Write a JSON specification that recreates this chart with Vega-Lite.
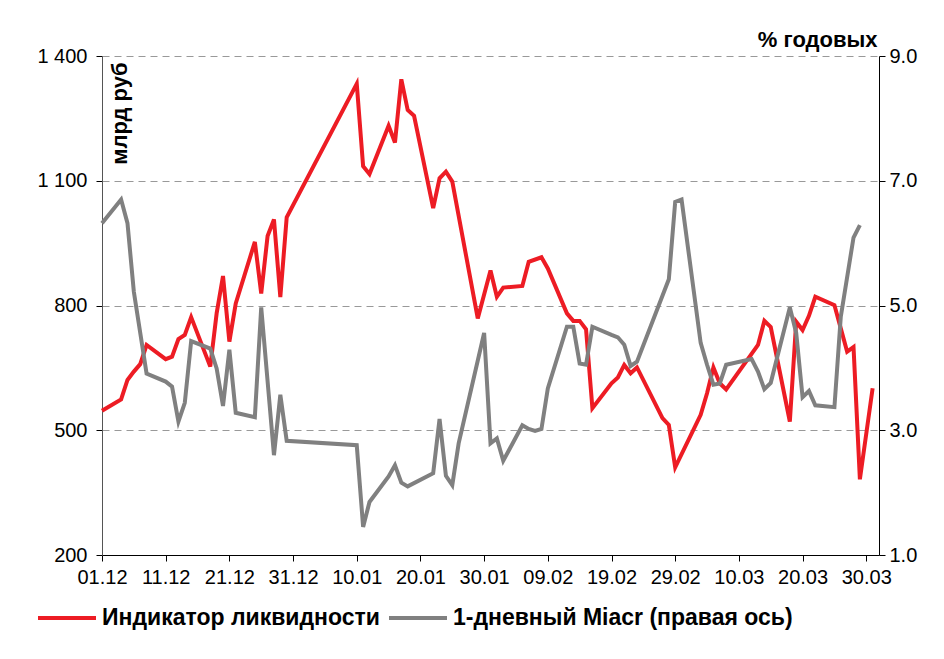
{
  "$schema": "https://vega.github.io/schema/vega-lite/v6.json",
  "width": 777,
  "height": 499,
  "autosize": {"type": "none"},
  "padding": {"left": 102, "top": 56, "right": 65, "bottom": 104},
  "background": "white",
  "config": {
    "font": "Liberation Sans",
    "view": {"stroke": null},
    "axis": {
      "labelFont": "Liberation Sans",
      "labelFontSize": 20,
      "labelColor": "#000",
      "domainColor": "#000",
      "tickColor": "#000",
      "titleFont": "Liberation Sans",
      "titleFontSize": 22,
      "titleFontWeight": "bold",
      "titleColor": "#000"
    }
  },
  "datasets": {
    "liq": [
      {"date": "2011-12-01", "value": 547},
      {"date": "2011-12-04", "value": 574},
      {"date": "2011-12-05", "value": 621},
      {"date": "2011-12-06", "value": 641},
      {"date": "2011-12-07", "value": 659},
      {"date": "2011-12-08", "value": 705},
      {"date": "2011-12-11", "value": 671},
      {"date": "2011-12-12", "value": 677},
      {"date": "2011-12-13", "value": 719},
      {"date": "2011-12-14", "value": 729},
      {"date": "2011-12-15", "value": 772},
      {"date": "2011-12-18", "value": 653},
      {"date": "2011-12-19", "value": 781},
      {"date": "2011-12-20", "value": 871},
      {"date": "2011-12-21", "value": 713},
      {"date": "2011-12-22", "value": 805},
      {"date": "2011-12-25", "value": 953},
      {"date": "2011-12-26", "value": 829},
      {"date": "2011-12-27", "value": 967},
      {"date": "2011-12-28", "value": 1007},
      {"date": "2011-12-29", "value": 820},
      {"date": "2011-12-30", "value": 1012},
      {"date": "2012-01-10", "value": 1333},
      {"date": "2012-01-11", "value": 1135},
      {"date": "2012-01-12", "value": 1116},
      {"date": "2012-01-15", "value": 1232},
      {"date": "2012-01-16", "value": 1192},
      {"date": "2012-01-17", "value": 1344},
      {"date": "2012-01-18", "value": 1270},
      {"date": "2012-01-19", "value": 1256},
      {"date": "2012-01-22", "value": 1034},
      {"date": "2012-01-23", "value": 1106},
      {"date": "2012-01-24", "value": 1122},
      {"date": "2012-01-25", "value": 1098},
      {"date": "2012-01-29", "value": 769},
      {"date": "2012-01-31", "value": 884},
      {"date": "2012-02-01", "value": 821},
      {"date": "2012-02-02", "value": 843},
      {"date": "2012-02-05", "value": 847},
      {"date": "2012-02-06", "value": 905},
      {"date": "2012-02-08", "value": 916},
      {"date": "2012-02-09", "value": 889},
      {"date": "2012-02-12", "value": 781},
      {"date": "2012-02-13", "value": 763},
      {"date": "2012-02-14", "value": 763},
      {"date": "2012-02-15", "value": 743},
      {"date": "2012-02-16", "value": 553},
      {"date": "2012-02-19", "value": 613},
      {"date": "2012-02-20", "value": 627},
      {"date": "2012-02-21", "value": 657},
      {"date": "2012-02-22", "value": 637},
      {"date": "2012-02-23", "value": 651},
      {"date": "2012-02-27", "value": 529},
      {"date": "2012-02-28", "value": 513},
      {"date": "2012-02-29", "value": 411},
      {"date": "2012-03-04", "value": 537},
      {"date": "2012-03-05", "value": 589},
      {"date": "2012-03-06", "value": 651},
      {"date": "2012-03-07", "value": 613},
      {"date": "2012-03-08", "value": 598},
      {"date": "2012-03-13", "value": 705},
      {"date": "2012-03-14", "value": 763},
      {"date": "2012-03-15", "value": 748},
      {"date": "2012-03-18", "value": 521},
      {"date": "2012-03-19", "value": 761},
      {"date": "2012-03-20", "value": 741},
      {"date": "2012-03-21", "value": 775},
      {"date": "2012-03-22", "value": 821},
      {"date": "2012-03-25", "value": 801},
      {"date": "2012-03-26", "value": 745},
      {"date": "2012-03-27", "value": 689},
      {"date": "2012-03-28", "value": 700},
      {"date": "2012-03-29", "value": 382},
      {"date": "2012-03-31", "value": 601}
    ],
    "miacr": [
      {"date": "2011-12-01", "value": 6.32},
      {"date": "2011-12-04", "value": 6.70},
      {"date": "2011-12-05", "value": 6.32},
      {"date": "2011-12-06", "value": 5.22},
      {"date": "2011-12-08", "value": 3.91},
      {"date": "2011-12-11", "value": 3.78},
      {"date": "2011-12-12", "value": 3.70},
      {"date": "2011-12-13", "value": 3.14},
      {"date": "2011-12-14", "value": 3.44},
      {"date": "2011-12-15", "value": 4.43},
      {"date": "2011-12-18", "value": 4.31},
      {"date": "2011-12-19", "value": 3.99},
      {"date": "2011-12-20", "value": 3.39},
      {"date": "2011-12-21", "value": 4.29},
      {"date": "2011-12-22", "value": 3.28},
      {"date": "2011-12-25", "value": 3.21},
      {"date": "2011-12-26", "value": 4.97},
      {"date": "2011-12-28", "value": 2.60},
      {"date": "2011-12-29", "value": 3.57},
      {"date": "2011-12-30", "value": 2.83},
      {"date": "2012-01-10", "value": 2.76},
      {"date": "2012-01-11", "value": 1.45},
      {"date": "2012-01-12", "value": 1.85},
      {"date": "2012-01-15", "value": 2.26},
      {"date": "2012-01-16", "value": 2.44},
      {"date": "2012-01-17", "value": 2.16},
      {"date": "2012-01-18", "value": 2.10},
      {"date": "2012-01-22", "value": 2.31},
      {"date": "2012-01-23", "value": 3.18},
      {"date": "2012-01-24", "value": 2.27},
      {"date": "2012-01-25", "value": 2.12},
      {"date": "2012-01-26", "value": 2.79},
      {"date": "2012-01-30", "value": 4.56},
      {"date": "2012-01-31", "value": 2.79},
      {"date": "2012-02-01", "value": 2.87},
      {"date": "2012-02-02", "value": 2.51},
      {"date": "2012-02-05", "value": 3.08},
      {"date": "2012-02-06", "value": 3.02},
      {"date": "2012-02-07", "value": 2.99},
      {"date": "2012-02-08", "value": 3.02},
      {"date": "2012-02-09", "value": 3.67},
      {"date": "2012-02-12", "value": 4.66},
      {"date": "2012-02-13", "value": 4.66},
      {"date": "2012-02-14", "value": 4.07},
      {"date": "2012-02-15", "value": 4.05},
      {"date": "2012-02-16", "value": 4.66},
      {"date": "2012-02-19", "value": 4.53},
      {"date": "2012-02-20", "value": 4.49},
      {"date": "2012-02-21", "value": 4.37},
      {"date": "2012-02-22", "value": 4.03},
      {"date": "2012-02-23", "value": 4.10},
      {"date": "2012-02-28", "value": 5.42},
      {"date": "2012-02-29", "value": 6.66},
      {"date": "2012-03-01", "value": 6.70},
      {"date": "2012-03-04", "value": 4.40},
      {"date": "2012-03-05", "value": 4.05},
      {"date": "2012-03-06", "value": 3.73},
      {"date": "2012-03-07", "value": 3.75},
      {"date": "2012-03-08", "value": 4.05},
      {"date": "2012-03-12", "value": 4.14},
      {"date": "2012-03-13", "value": 3.94},
      {"date": "2012-03-14", "value": 3.66},
      {"date": "2012-03-15", "value": 3.76},
      {"date": "2012-03-18", "value": 4.97},
      {"date": "2012-03-19", "value": 4.56},
      {"date": "2012-03-20", "value": 3.53},
      {"date": "2012-03-21", "value": 3.63},
      {"date": "2012-03-22", "value": 3.40},
      {"date": "2012-03-25", "value": 3.37},
      {"date": "2012-03-26", "value": 4.82},
      {"date": "2012-03-28", "value": 6.09},
      {"date": "2012-03-29", "value": 6.29}
    ]
  },
  "layer": [
    {
      "data": {"name": "liq"},
      "mark": {"type": "line", "strokeWidth": 4, "strokeJoin": "miter"},
      "encoding": {
        "x": {
          "field": "date",
          "type": "temporal",
          "scale": {
            "type": "utc",
            "domain": [
              {"year": 2011, "month": 12, "date": 1, "utc": true},
              {"year": 2012, "month": 4, "date": 1, "utc": true}
            ]
          },
          "axis": {
            "title": null,
            "labelExpr": "utcFormat(datum.value, '%d.%m')",
            "values": [
              {"year": 2011, "month": 12, "date": 1, "utc": true},
              {"year": 2011, "month": 12, "date": 11, "utc": true},
              {"year": 2011, "month": 12, "date": 21, "utc": true},
              {"year": 2011, "month": 12, "date": 31, "utc": true},
              {"year": 2012, "month": 1, "date": 10, "utc": true},
              {"year": 2012, "month": 1, "date": 20, "utc": true},
              {"year": 2012, "month": 1, "date": 30, "utc": true},
              {"year": 2012, "month": 2, "date": 9, "utc": true},
              {"year": 2012, "month": 2, "date": 19, "utc": true},
              {"year": 2012, "month": 2, "date": 29, "utc": true},
              {"year": 2012, "month": 3, "date": 10, "utc": true},
              {"year": 2012, "month": 3, "date": 20, "utc": true},
              {"year": 2012, "month": 3, "date": 30, "utc": true}
            ],
            "grid": false,
            "tickSize": 6,
            "labelPadding": 6,
            "labelOverlap": false,
            "labelFlush": false,
            "domainColor": "#000"
          }
        },
        "y": {
          "field": "value",
          "type": "quantitative",
          "scale": {"domain": [200, 1400], "nice": false, "zero": false},
          "axis": {
            "orient": "left",
            "values": [200, 500, 800, 1100, 1400],
            "labelExpr": "replace(format(datum.value, ','), ',', ' ')",
            "grid": true,
            "gridColor": "#999999",
            "gridDash": [7, 5],
            "gridWidth": 1,
            "tickSize": 6,
            "labelPadding": 9,
            "domainColor": "#555555",
            "title": "млрд руб",
            "titleAngle": -90,
            "titleX": 7,
            "titleY": 6,
            "titleAlign": "right",
            "titleBaseline": "top"
          }
        },
        "color": {
          "datum": "Индикатор ликвидности",
          "type": "nominal",
          "scale": {
            "domain": ["Индикатор ликвидности", "1-дневный Miacr (правая ось)"],
            "range": ["#ED1C24", "#808080"]
          },
          "legend": {
            "title": null,
            "orient": "none",
            "direction": "horizontal",
            "legendX": -66,
            "legendY": 531,
            "symbolType": "stroke",
            "symbolSize": 3364,
            "symbolStrokeWidth": 4,
            "labelFont": "Liberation Sans",
            "labelFontSize": 23,
            "labelFontWeight": "bold",
            "labelColor": "#000",
            "labelLimit": 600,
            "labelOffset": 4,
            "columnPadding": 1
          }
        }
      }
    },
    {
      "data": {"name": "miacr"},
      "mark": {"type": "line", "strokeWidth": 4, "strokeJoin": "miter"},
      "encoding": {
        "x": {"field": "date", "type": "temporal"},
        "y": {
          "field": "value",
          "type": "quantitative",
          "scale": {"domain": [1, 9], "nice": false, "zero": false},
          "axis": {
            "orient": "right",
            "values": [1, 3, 5, 7, 9],
            "format": ".1f",
            "grid": false,
            "tickSize": 6,
            "labelPadding": 4,
            "domainColor": "#000",
            "title": "% годовых",
            "titleAngle": 0,
            "titleX": -2,
            "titleY": -10,
            "titleAlign": "right",
            "titleBaseline": "alphabetic"
          }
        },
        "color": {"datum": "1-дневный Miacr (правая ось)", "type": "nominal"}
      }
    }
  ],
  "resolve": {"scale": {"y": "independent"}}
}
